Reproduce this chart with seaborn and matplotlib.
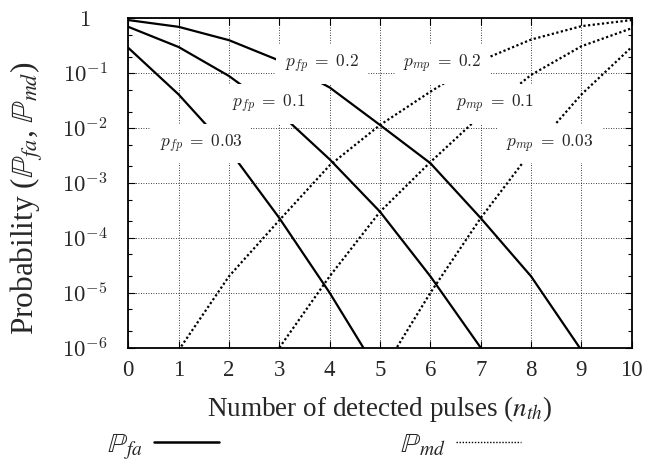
import matplotlib
matplotlib.use("Agg")
import matplotlib.pyplot as plt
from matplotlib.lines import Line2D
from matplotlib.ticker import LogLocator, NullFormatter
import pandas as pd
import seaborn as sns

# Threshold on the number of detected pulses
x_fa_02 = [0, 1, 2, 3, 4, 5, 6, 7, 8, 9]
x_fa_01 = [0, 1, 2, 3, 4, 5, 6, 7]
x_fa_003 = [0, 1, 2, 3, 4, 5]
x_md_02 = [1, 2, 3, 4, 5, 6, 7, 8, 9, 10]
x_md_01 = [3, 4, 5, 6, 7, 8, 9, 10]
x_md_003 = [5, 6, 7, 8, 9, 10]

# False-alarm probability for p_fp = 0.2, 0.1, 0.03
p_fa_02 = [0.93, 0.70, 0.40, 0.17, 0.055, 0.0114, 0.0023, 2.3e-4, 2.0e-5, 9e-7]
p_fa_01 = [0.70, 0.30, 0.089, 0.019, 0.0027, 3.0e-4, 2.0e-5, 1e-6]
p_fa_003 = [0.29, 0.041, 4.0e-3, 2.3e-4, 1.0e-5, 3.2e-7]

# Missed-detection probability for p_mp = 0.2, 0.1, 0.03
p_md_02 = [9e-7, 2.0e-5, 2.1e-4, 2.1e-3, 0.0114, 0.046, 0.17, 0.41, 0.72, 0.93]
p_md_01 = [1e-6, 2.0e-5, 3.0e-4, 0.0024, 0.017, 0.093, 0.31, 0.66]
p_md_003 = [3.2e-7, 1.0e-5, 2.3e-4, 3.7e-3, 0.041, 0.30]

x_ticks = list(range(11))
x_tick_labels = [str(v) for v in x_ticks]
y_ticks = [1e-6, 1e-5, 1e-4, 1e-3, 1e-2, 1e-1, 1]
y_tick_labels = [r"$10^{-6}$", r"$10^{-5}$", r"$10^{-4}$", r"$10^{-3}$",
                 r"$10^{-2}$", r"$10^{-1}$", r"$1$"]

curve_labels = [r"$p_{fp}\;=\;0.2$", r"$p_{fp}\;=\;0.1$", r"$p_{fp}\;=\;0.03$",
                r"$p_{mp}\;=\;0.2$", r"$p_{mp}\;=\;0.1$", r"$p_{mp}\;=\;0.03$"]
label_x = [3.84, 2.78, 1.45, 6.24, 7.29, 8.38]
label_y = [0.147, 0.0276, 0.0052, 0.147, 0.0276, 0.0052]

sns.set_style("ticks")
plt.rcParams["font.family"] = ["Liberation Serif", "DejaVu Serif"]
plt.rcParams["mathtext.fontset"] = "stix"

fig = plt.figure(figsize=(6.59, 4.63), dpi=100)
ax = fig.add_axes([0.1947, 0.249, 0.7639, 0.7114])
ax.set_yscale("log")

solid = dict(color="black", linewidth=1.6, linestyle="-")
dotted = dict(color="black", linewidth=1.6, linestyle=(0, (1, 1.1)))

for xs, ys in [(x_fa_02, p_fa_02), (x_fa_01, p_fa_01), (x_fa_003, p_fa_003)]:
    sns.lineplot(data=pd.DataFrame({"n": xs, "p": ys}), x="n", y="p", ax=ax, **solid)
for xs, ys in [(x_md_02, p_md_02), (x_md_01, p_md_01), (x_md_003, p_md_003)]:
    sns.lineplot(data=pd.DataFrame({"n": xs, "p": ys}), x="n", y="p", ax=ax, **dotted)

for txt, lx, ly in zip(curve_labels, label_x, label_y):
    ax.text(lx, ly, txt, ha="center", va="center", fontsize=12.5,
            math_fontfamily="cm", zorder=4,
            bbox=dict(boxstyle="square,pad=0.5", fc="white", ec="none"))

ax.set_xticks(x_ticks, x_tick_labels, fontsize=16.5)
ax.set_yticks(y_ticks, y_tick_labels, fontsize=16.5, ha="center",
              math_fontfamily="cm")
ax.yaxis.set_minor_locator(LogLocator(base=10, subs=(2.0, 5.0)))
ax.yaxis.set_minor_formatter(NullFormatter())
ax.set_xlim(0, 10)
ax.set_ylim(1e-6, 1)

ax.grid(True, which="major", color="black", linestyle=(0, (1, 2)), linewidth=0.6)
ax.set_axisbelow(True)
ax.tick_params(which="both", direction="in", top=True, right=True, color="black")
ax.tick_params(which="major", length=5, width=0.8)
ax.tick_params(which="minor", length=3, width=0.8)
ax.tick_params(axis="y", which="major", pad=31)
ax.tick_params(axis="x", which="major", pad=9)
for side in ax.spines.values():
    side.set_color("black")
    side.set_linewidth(1.3)

ax.set_xlabel(r"Number of detected pulses ($n_{th}$)", fontsize=19.5)
ax.set_ylabel(r"Probability ($\mathbb{P}_{fa}$, $\mathbb{P}_{md}$)", fontsize=22.5)
ax.xaxis.set_label_coords(0.5, -0.14)
ax.yaxis.set_label_coords(-0.164, 0.455)

handles = [Line2D([], [], color="black", linewidth=1.8),
           Line2D([], [], color="black", linewidth=1.0, linestyle=(0, (1, 1.2)))]
fig.legend(handles, [r"$\mathbb{P}_{fa}$", r"$\mathbb{P}_{md}$"], ncol=2,
           loc="center", bbox_to_anchor=(0.477, 0.036), frameon=False,
           markerfirst=False, handlelength=2.34, handletextpad=0.4,
           columnspacing=6.5, fontsize=20, borderpad=0.2)

fig.savefig("out.png", dpi=100)
